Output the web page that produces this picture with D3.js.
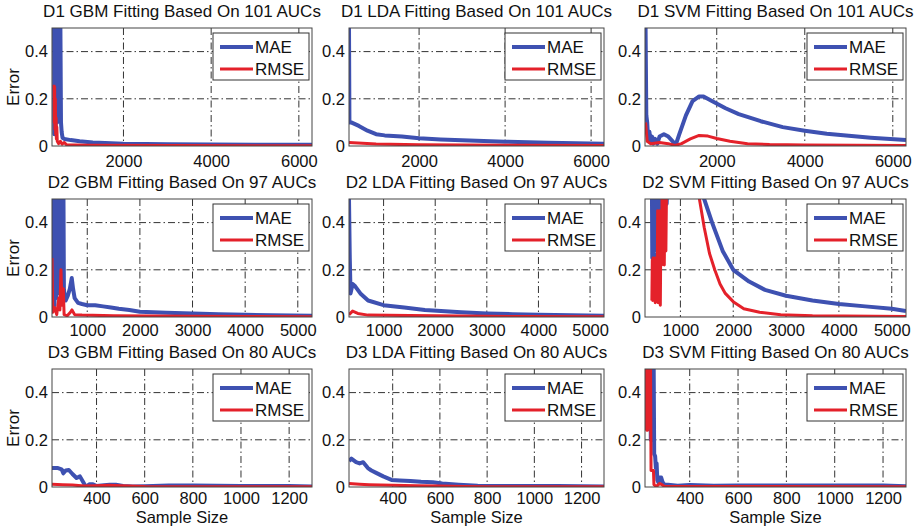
<!DOCTYPE html>
<html>
<head>
<meta charset="utf-8">
<script src="https://cdn.jsdelivr.net/npm/d3@7"></script>
<style>
  body { margin: 0; background: #fff; }
  svg text { font-family: "Liberation Sans", Arial, sans-serif; fill: #111; }
  .grid line { stroke: #333; stroke-width: 1; stroke-dasharray: 7 3 1.5 3; }
</style>
</head>
<body>
<svg id="svg" width="918" height="531"></svg>
<script>
// Panel titles, row by row
const titles = [
  'D1 GBM Fitting Based On 101 AUCs', 'D1 LDA Fitting Based On 101 AUCs', 'D1 SVM Fitting Based On 101 AUCs',
  'D2 GBM Fitting Based On 97 AUCs', 'D2 LDA Fitting Based On 97 AUCs', 'D2 SVM Fitting Based On 97 AUCs',
  'D3 GBM Fitting Based On 80 AUCs', 'D3 LDA Fitting Based On 80 AUCs', 'D3 SVM Fitting Based On 80 AUCs',
];
const seriesNames = ['MAE', 'RMSE'];
const rowXDomains = [[370, 6300], [330, 5270], [215, 1295]];
const rowXTicks = [[2000, 4000, 6000], [1000, 2000, 3000, 4000, 5000], [400, 600, 800, 1000, 1200]];
const yTicks = [0, 0.2, 0.4];

// D1 row
const d1GbmMae = [[415,0.6],[423,0.05],[431,0.6],[439,0.1],[447,0.6],[455,0.08],[463,0.6],[471,0.12],[479,0.6],[487,0.1],[495,0.6],[503,0.15],[511,0.6],[519,0.12],[527,0.6],[535,0.2],[543,0.6],[551,0.3],[560,0.55],[575,0.1],[590,0.06],[610,0.035],[650,0.03],[800,0.025],[1000,0.02],[1300,0.015],[2000,0.01],[3000,0.007],[4000,0.006],[5000,0.005],[6300,0.005]];
const d1GbmRmse = [[415,0.26],[422,0.1],[430,0.25],[438,0.07],[446,0.2],[454,0.05],[462,0.12],[470,0.03],[480,0.08],[490,0.02],[520,0.01],[560,0.02],[600,0.008],[650,0.015],[700,0.005],[900,0.004],[1200,0.003],[6300,0.001]];
const d1LdaMae = [[370,0.5],[380,0.1],[420,0.1],[600,0.085],[800,0.065],[1000,0.05],[1200,0.045],[1600,0.04],[2000,0.033],[2500,0.028],[3000,0.024],[3500,0.021],[4000,0.018],[5000,0.014],[6300,0.01]];
const d1LdaRmse = [[370,0.015],[1000,0.008],[2000,0.005],[3000,0.004],[4000,0.003],[6300,0.002]];
const d1SvmMae = [[383,0.5],[400,0.13],[420,0.1],[440,0.03],[470,0.06],[500,0.02],[530,0.04],[560,0.01],[600,0.03],[650,0.01],[700,0.04],[800,0.05],[900,0.04],[1000,0.02],[1060,0.0],[1150,0.05],[1300,0.13],[1450,0.19],[1600,0.21],[1700,0.21],[1900,0.19],[2200,0.16],[2500,0.135],[3000,0.105],[3500,0.08],[4000,0.065],[4500,0.052],[5000,0.043],[5500,0.035],[6300,0.025]];
const d1SvmRmse = [[383,0.1],[420,0.02],[500,0.01],[700,0.015],[900,0.01],[1050,0.002],[1200,0.01],[1400,0.03],[1600,0.045],[1800,0.042],[2000,0.032],[2300,0.02],[2700,0.01],[3200,0.006],[4000,0.004],[6300,0.002]];

// D2 row
const d2GbmMae = [[330,0.05],[338,0.6],[346,0.04],[354,0.6],[362,0.1],[370,0.6],[378,0.05],[386,0.6],[394,0.12],[402,0.6],[410,0.08],[418,0.6],[426,0.15],[434,0.6],[442,0.1],[450,0.6],[458,0.12],[466,0.6],[474,0.2],[482,0.6],[490,0.1],[498,0.6],[506,0.15],[514,0.6],[522,0.1],[530,0.6],[538,0.15],[546,0.6],[556,0.12],[575,0.08],[590,0.07],[630,0.09],[670,0.12],[705,0.165],[730,0.12],[760,0.08],[825,0.06],[900,0.055],[1000,0.05],[1150,0.05],[1300,0.045],[1450,0.04],[1600,0.035],[1800,0.03],[2000,0.022],[2500,0.018],[3000,0.015],[3500,0.012],[4000,0.01],[4500,0.007],[5270,0.005]];
const d2GbmRmse = [[330,0.25],[345,0.02],[380,0.04],[420,0.01],[460,0.08],[480,0.03],[500,0.2],[520,0.05],[545,0.12],[560,0.01],[620,0.005],[680,0.02],[710,0.03],[760,0.01],[900,0.008],[1500,0.005],[3000,0.003],[4200,0.002],[5270,0.001]];
const d2LdaMae = [[330,0.5],[345,0.25],[360,0.1],[400,0.14],[450,0.13],[550,0.1],[700,0.07],[1000,0.05],[1400,0.04],[1800,0.03],[2500,0.02],[3000,0.015],[3500,0.012],[4000,0.01],[5270,0.005]];
const d2LdaRmse = [[330,0.01],[400,0.025],[500,0.015],[700,0.008],[1500,0.006],[2500,0.004],[3700,0.002],[5270,0.001]];
const d2SvmMae = [[460,0.6],[468,0.25],[476,0.6],[484,0.26],[492,0.6],[500,0.25],[508,0.6],[516,0.28],[524,0.6],[532,0.3],[540,0.6],[548,0.3],[556,0.6],[564,0.35],[572,0.6],[580,0.4],[590,0.6],[600,0.42],[610,0.6],[620,0.45],[630,0.6],[640,0.44],[650,0.6],[665,0.45],[680,0.6],[700,0.46],[720,0.6],[740,0.48],[760,0.6],[780,0.6],[1000,0.9],[1450,0.5],[1600,0.4],[1800,0.28],[2000,0.2],[2300,0.15],[2600,0.115],[3000,0.09],[3500,0.07],[4000,0.055],[4500,0.045],[5000,0.035],[5270,0.025]];
const d2SvmRmse = [[460,0.07],[468,0.24],[476,0.07],[484,0.25],[492,0.1],[500,0.22],[508,0.08],[516,0.25],[524,0.06],[532,0.2],[540,0.12],[550,0.25],[560,0.1],[570,0.45],[580,0.06],[590,0.4],[600,0.1],[610,0.45],[620,0.05],[632,0.42],[645,0.22],[655,0.6],[665,0.25],[680,0.6],[695,0.22],[710,0.6],[725,0.28],[740,0.6],[770,0.6],[1000,0.9],[1360,0.5],[1450,0.38],[1550,0.27],[1650,0.2],[1750,0.14],[1850,0.1],[2000,0.065],[2200,0.035],[2500,0.02],[2900,0.01],[3500,0.005],[5270,0.002]];

// D3 row
const d3GbmMae = [[215,0.08],[240,0.08],[255,0.075],[262,0.058],[272,0.07],[285,0.072],[300,0.055],[317,0.038],[331,0.045],[345,0.02],[356,0.0],[370,0.012],[385,0.012],[400,0.004],[420,0.006],[455,0.01],[480,0.01],[510,0.004],[550,0.002],[600,0.003],[700,0.006],[800,0.006],[900,0.005],[1000,0.004],[1100,0.004],[1200,0.004],[1295,0.002]];
const d3GbmRmse = [[215,0.012],[260,0.01],[300,0.008],[350,0.004],[400,0.005],[450,0.007],[500,0.005],[600,0.002],[800,0.001],[1295,0.001]];
const d3LdaMae = [[215,0.11],[225,0.12],[245,0.105],[260,0.1],[275,0.105],[295,0.08],[310,0.07],[330,0.06],[360,0.045],[395,0.03],[430,0.028],[475,0.025],[520,0.022],[570,0.02],[610,0.015],[680,0.01],[760,0.005],[900,0.004],[1100,0.004],[1295,0.002]];
const d3LdaRmse = [[215,0.015],[260,0.012],[300,0.01],[400,0.007],[500,0.005],[600,0.004],[700,0.002],[800,0.001],[1295,0.001]];
const d3SvmMae = [[225,0.6],[227,0.3],[229,0.6],[231,0.3],[233,0.6],[235,0.25],[237,0.6],[239,0.2],[241,0.6],[243,0.2],[245,0.6],[247,0.3],[249,0.6],[251,0.5],[253,0.14],[257,0.13],[260,0.08],[263,0.1],[266,0.03],[270,0.02],[276,0.04],[282,0.04],[288,0.02],[295,0.01],[310,0.01],[350,0.005],[400,0.008],[500,0.005],[600,0.006],[800,0.006],[1000,0.006],[1200,0.006],[1295,0.003]];
const d3SvmRmse = [[218,0.24],[220,0.6],[222,0.24],[224,0.6],[226,0.24],[228,0.6],[230,0.25],[232,0.6],[234,0.3],[236,0.6],[238,0.5],[240,0.07],[250,0.07],[252,0.01],[258,0.005],[266,0.005],[275,0.015],[285,0.01],[295,0.003],[1295,0.001]];

const panelData = [
  [d1GbmMae, d1GbmRmse], [d1LdaMae, d1LdaRmse], [d1SvmMae, d1SvmRmse],
  [d2GbmMae, d2GbmRmse], [d2LdaMae, d2LdaRmse], [d2SvmMae, d2SvmRmse],
  [d3GbmMae, d3GbmRmse], [d3LdaMae, d3LdaRmse], [d3SvmMae, d3SvmRmse],
];

// Layout
const colLeft = [52, 349, 645];
const colWidth = [260, 255, 261];
const rowTop = [28, 199, 369];
const rowTickPad = [9, 7, 5];
const plotH = 118;
const colors = ['#3e51b1', '#e4212a'];
const widths = [4, 3];
const fontSize = 16.5;

const svg = d3.select('#svg');
const defs = svg.append('defs');

panelData.forEach((series, i) => {
  const r = Math.floor(i / 3);
  const c = i % 3;
  const w = colWidth[c];
  const g = svg.append('g').attr('transform', `translate(${colLeft[c]},${rowTop[r]})`);

  const x = d3.scaleLinear().domain(rowXDomains[r]).range([0, w]);
  const y = d3.scaleLinear().domain([0, 0.5]).range([plotH, 0]);

  defs.append('clipPath').attr('id', `clip${i}`)
    .append('rect').attr('width', w).attr('height', plotH);

  g.append('rect').attr('width', w).attr('height', plotH).attr('fill', '#fff');

  // Grid
  const grid = g.append('g').attr('class', 'grid');
  grid.selectAll('line.v').data(rowXTicks[r]).enter().append('line')
    .attr('x1', (d) => x(d)).attr('x2', (d) => x(d))
    .attr('y1', 0).attr('y2', plotH);
  grid.selectAll('line.h').data(yTicks.filter((d) => d > 0)).enter().append('line')
    .attr('x1', 0).attr('x2', w)
    .attr('y1', (d) => y(d)).attr('y2', (d) => y(d));

  // Axes
  const xAxis = g.append('g').attr('transform', `translate(0,${plotH})`)
    .call(d3.axisBottom(x).tickValues(rowXTicks[r]).tickSize(0).tickPadding(rowTickPad[r]).tickFormat(d3.format('d')));
  const yAxis = g.append('g')
    .call(d3.axisLeft(y).tickValues(yTicks).tickSize(0).tickPadding(4).tickFormat((d) => (d === 0 ? '0' : d3.format('.1f')(d))));
  [xAxis, yAxis].forEach((a) => {
    a.select('.domain').remove();
    a.selectAll('text').attr('font-size', fontSize).attr('font-family', '"Liberation Sans", Arial, sans-serif').attr('fill', '#111');
  });

  // Lines
  const line = d3.line().x((d) => x(d[0])).y((d) => y(d[1]));
  const gl = g.append('g').attr('clip-path', `url(#clip${i})`);
  series.forEach((s, k) => {
    gl.append('path').datum(s)
      .attr('d', line)
      .attr('fill', 'none')
      .attr('stroke', colors[k])
      .attr('stroke-width', widths[k])
      .attr('stroke-linejoin', 'round');
  });

  // Frame
  g.append('rect').attr('width', w).attr('height', plotH)
    .attr('fill', 'none').attr('stroke', '#444').attr('stroke-width', 1);

  // Title
  g.append('text').attr('x', w / 2).attr('y', -11)
    .attr('text-anchor', 'middle').attr('font-size', 17).text(titles[i]);

  // Legend
  const lg = g.append('g').attr('transform', `translate(${w - 99},5)`);
  lg.append('rect').attr('width', 96).attr('height', 47)
    .attr('fill', '#fff').attr('stroke', '#333').attr('stroke-width', 1);
  seriesNames.forEach((name, k) => {
    const yy = 14 + k * 22;
    lg.append('line').attr('x1', 7).attr('x2', 40).attr('y1', yy).attr('y2', yy)
      .attr('stroke', colors[k]).attr('stroke-width', widths[k]);
    lg.append('text').attr('x', 42).attr('y', yy + 6).attr('font-size', 17).text(name);
  });

  if (c === 0) {
    g.append('text').attr('transform', `translate(${13 - colLeft[c]},${plotH / 2}) rotate(-90)`)
      .attr('text-anchor', 'middle').attr('dy', '0.35em').attr('font-size', 17).text('Error');
  }
  if (r === 2) {
    g.append('text').attr('x', w / 2).attr('y', plotH + 36)
      .attr('text-anchor', 'middle').attr('font-size', fontSize).text('Sample Size');
  }
});
</script>
</body>
</html>
